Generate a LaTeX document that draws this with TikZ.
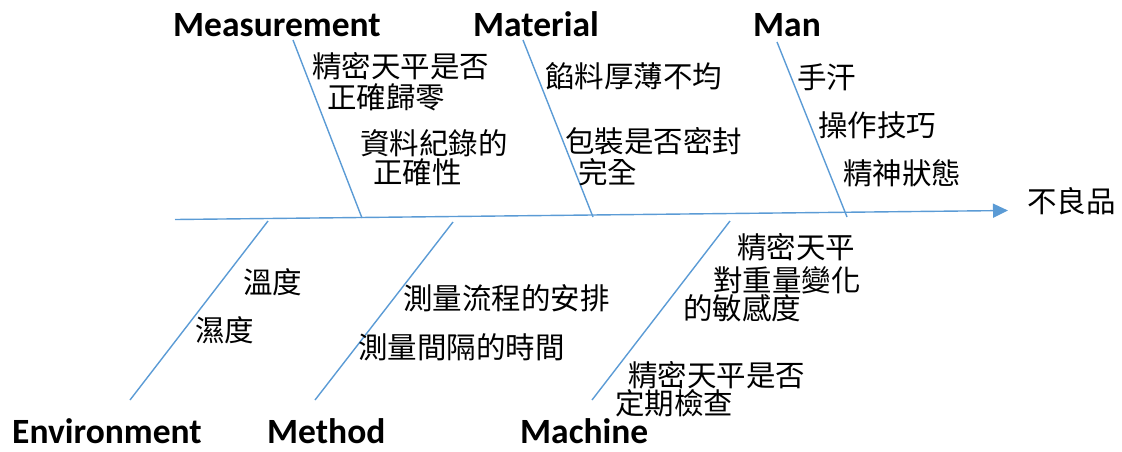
\documentclass[tikz,border=0pt]{standalone}
\usepackage{fontspec}
\setmainfont{Carlito}
\newfontfamily\cjk{Noto Sans CJK TC}
\usetikzlibrary{arrows.meta}
\definecolor{bonecol}{RGB}{91,155,213}
\begin{document}
\begin{tikzpicture}[x=1pt,y=-1pt,
  bone/.style={draw=bonecol, line width=1.4pt},
  cat/.style={font=\fontsize{35.5}{40}\selectfont\bfseries, inner sep=0, anchor=base west},
  cause/.style={font=\cjk\fontsize{29.5}{30}\selectfont, inner sep=0, anchor=base west}]
\useasboundingbox (0,0) rectangle (1122,451);
% spine
\coordinate (tail) at (175,219.5);
\coordinate (head) at (1008,210.5);
\draw[bone,-{Triangle[length=15pt,width=14pt]}] (tail) -- (head);
\node[cause] (effect) at (1027,212) {不良品};
% upper bones
\coordinate (measTop) at (293,40);  \coordinate (measBot) at (362,218);
\coordinate (mateTop) at (523,40);  \coordinate (mateBot) at (593,217);
\coordinate (manTop)  at (777,42);  \coordinate (manBot)  at (847,217);
\draw[bone] (measTop) -- (measBot);
\draw[bone] (mateTop) -- (mateBot);
\draw[bone] (manTop) -- (manBot);
% lower bones
\coordinate (envBot) at (130,400);  \coordinate (envTop) at (268,221);
\coordinate (metBot) at (315,400);  \coordinate (metTop) at (453,222);
\coordinate (macBot) at (592,400);  \coordinate (macTop) at (730,221);
\draw[bone] (envBot) -- (envTop);
\draw[bone] (metBot) -- (metTop);
\draw[bone] (macBot) -- (macTop);
% category labels
\node[cat] (meas) at (173,36) {Measurement};
\node[cat] (mate) at (473,36) {Material};
\node[cat] (man)  at (753,36) {Man};
\node[cat] (env)  at (12,443) {Environment};
\node[cat] (met)  at (267,443) {Method};
\node[cat] (mac)  at (520,443) {Machine};
% Measurement causes
\node[cause] (m1a) at (312,77) {精密天平是否};
\node[cause] (m1b) at (327,108) {正確歸零};
\node[cause] (m2a) at (360,154) {資料紀錄的};
\node[cause] (m2b) at (373,183) {正確性};
% Material causes
\node[cause] (t1)  at (545,87) {餡料厚薄不均};
\node[cause] (t2a) at (565,152) {包裝是否密封};
\node[cause] (t2b) at (578,183) {完全};
% Man causes
\node[cause] (n1) at (797,88) {手汗};
\node[cause] (n2) at (818,136) {操作技巧};
\node[cause] (n3) at (843,184) {精神狀態};
% Environment causes
\node[cause] (e1) at (243,293) {溫度};
\node[cause] (e2) at (195,341) {濕度};
% Method causes
\node[cause] (h1) at (403,309) {測量流程的安排};
\node[cause] (h2) at (358,358) {測量間隔的時間};
% Machine causes
\node[cause] (c1a) at (737,258) {精密天平};
\node[cause] (c1b) at (713,291) {對重量變化};
\node[cause] (c1c) at (683,319) {的敏感度};
\node[cause] (c2a) at (628,386) {精密天平是否};
\node[cause] (c2b) at (615,414) {定期檢查};
\end{tikzpicture}
\end{document}
